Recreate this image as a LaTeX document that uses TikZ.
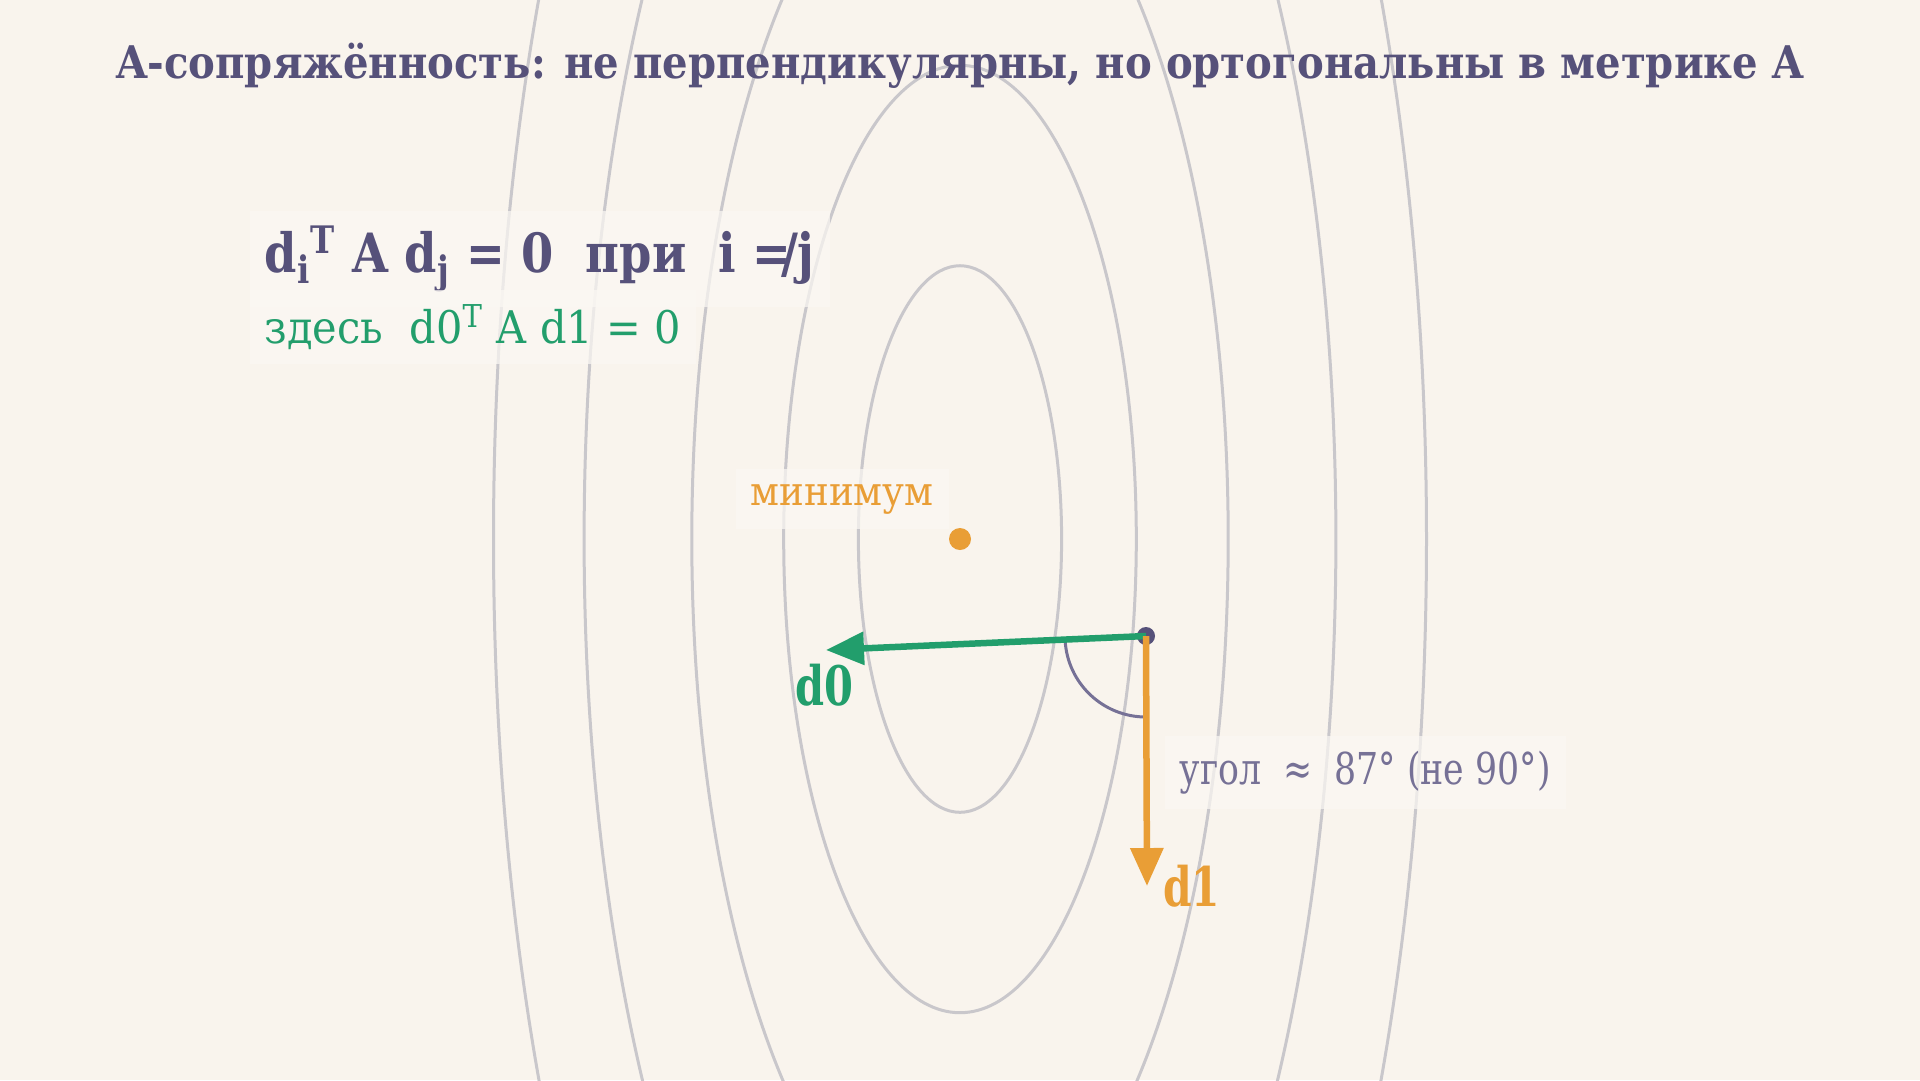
\documentclass[tikz,border=0pt]{standalone}
\usepackage{fontspec}
\setmainfont{DejaVu Serif}
\usetikzlibrary{arrows.meta,positioning}

\definecolor{bgc}{RGB}{249,244,237}
\definecolor{boxc}{RGB}{251,248,243}
\definecolor{titlec}{RGB}{86,81,122}
\definecolor{greenc}{RGB}{34,158,108}
\definecolor{orangec}{RGB}{233,158,54}
\definecolor{greyc}{RGB}{201,199,203}
\definecolor{anglec}{RGB}{118,113,150}

% squeeze a text to a given width, keeping its height
\newcommand{\fitto}[2]{\resizebox{#1}{\height}{#2}}

\tikzset{
  contour/.style={line width=0.3mm, color=greyc},
  lbl/.style={fill=boxc, fill opacity=0.7, text opacity=1, inner sep=1.5mm},
  vec/.style={line width=0.65mm, -{Triangle[length=3.8mm,width=3.2mm]}}
}

\begin{document}
\begin{tikzpicture}[x=0.1mm,y=-0.1mm]
  \fill [bgc] (0,0) rectangle (1920,1080);
  \useasboundingbox (0,0) rectangle (1920,1080);

  \begin{scope}
    \clip (0,0) rectangle (1920,1080);
    \coordinate (M) at (960,539);
    \foreach \rx/\ry in {10.16/27.33, 17.63/47.37, 26.82/72.1, 37.59/101.1, 46.65/125.5}
      \draw [contour] (M) ellipse [x radius=\rx mm, y radius=\ry mm];
  \end{scope}

  \node (title) [anchor=base, text=titlec, font=\bfseries\fontsize{12.8pt}{15pt}\selectfont]
    at (960,78) {\fitto{16.87cm}{A-сопряжённость: не перпендикулярны, но ортогональны в метрике A}};

  \node (rule) [lbl, anchor=base west, text=titlec, font=\bfseries\fontsize{15.4pt}{18pt}\selectfont]
    at (249,272) {\fitto{5.5cm}{d\textsubscript{i}\textsuperscript{T} A d\textsubscript{j} = 0\ \ при\ \ i =\kern-.22em/j}};
  \node (here) [lbl, anchor=base west, text=greenc, font=\fontsize{12.8pt}{15pt}\selectfont]
    at (249,343) {\fitto{4.16cm}{здесь\ \ d0\textsuperscript{T} A d1 = 0}};

  \node (min) [circle, fill=orangec, inner sep=0pt, minimum size=2.2mm] at (M) {};
  \node (minlbl) [lbl, anchor=base, text=orangec, font=\fontsize{11.4pt}{14pt}\selectfont]
    at (842,505) {\fitto{1.83cm}{минимум}};

  \node (P) [circle, fill=titlec, inner sep=0pt, minimum size=1.8mm] at (1146,636) {};
  \coordinate (d0end) at (826,650);
  \coordinate (d1end) at (1147,886);

  \draw [line width=0.3mm, color=anglec] (P.center) ++(182.8:8.1mm) arc [start angle=182.8, end angle=270, radius=8.1mm];
  \draw [vec, color=greenc] (P.center) -- (d0end);
  \draw [vec, color=orangec] (P.center) -- (d1end);

  \node (d0) [anchor=base, text=greenc, font=\bfseries\fontsize{15.5pt}{18pt}\selectfont]
    at (824,705) {\fitto{0.58cm}{d0}};
  \node (d1) [anchor=base west, text=orangec, font=\bfseries\fontsize{15.5pt}{18pt}\selectfont]
    at (1151,906) {\fitto{0.57cm}{d1}};
  \node (angle) [lbl, anchor=base west, text=anglec, font=\fontsize{12.5pt}{14pt}\selectfont]
    at (1164,784) {\fitto{3.71cm}{угол\ \ ≈\ \ 87° (не 90°)}};

\end{tikzpicture}
\end{document}
